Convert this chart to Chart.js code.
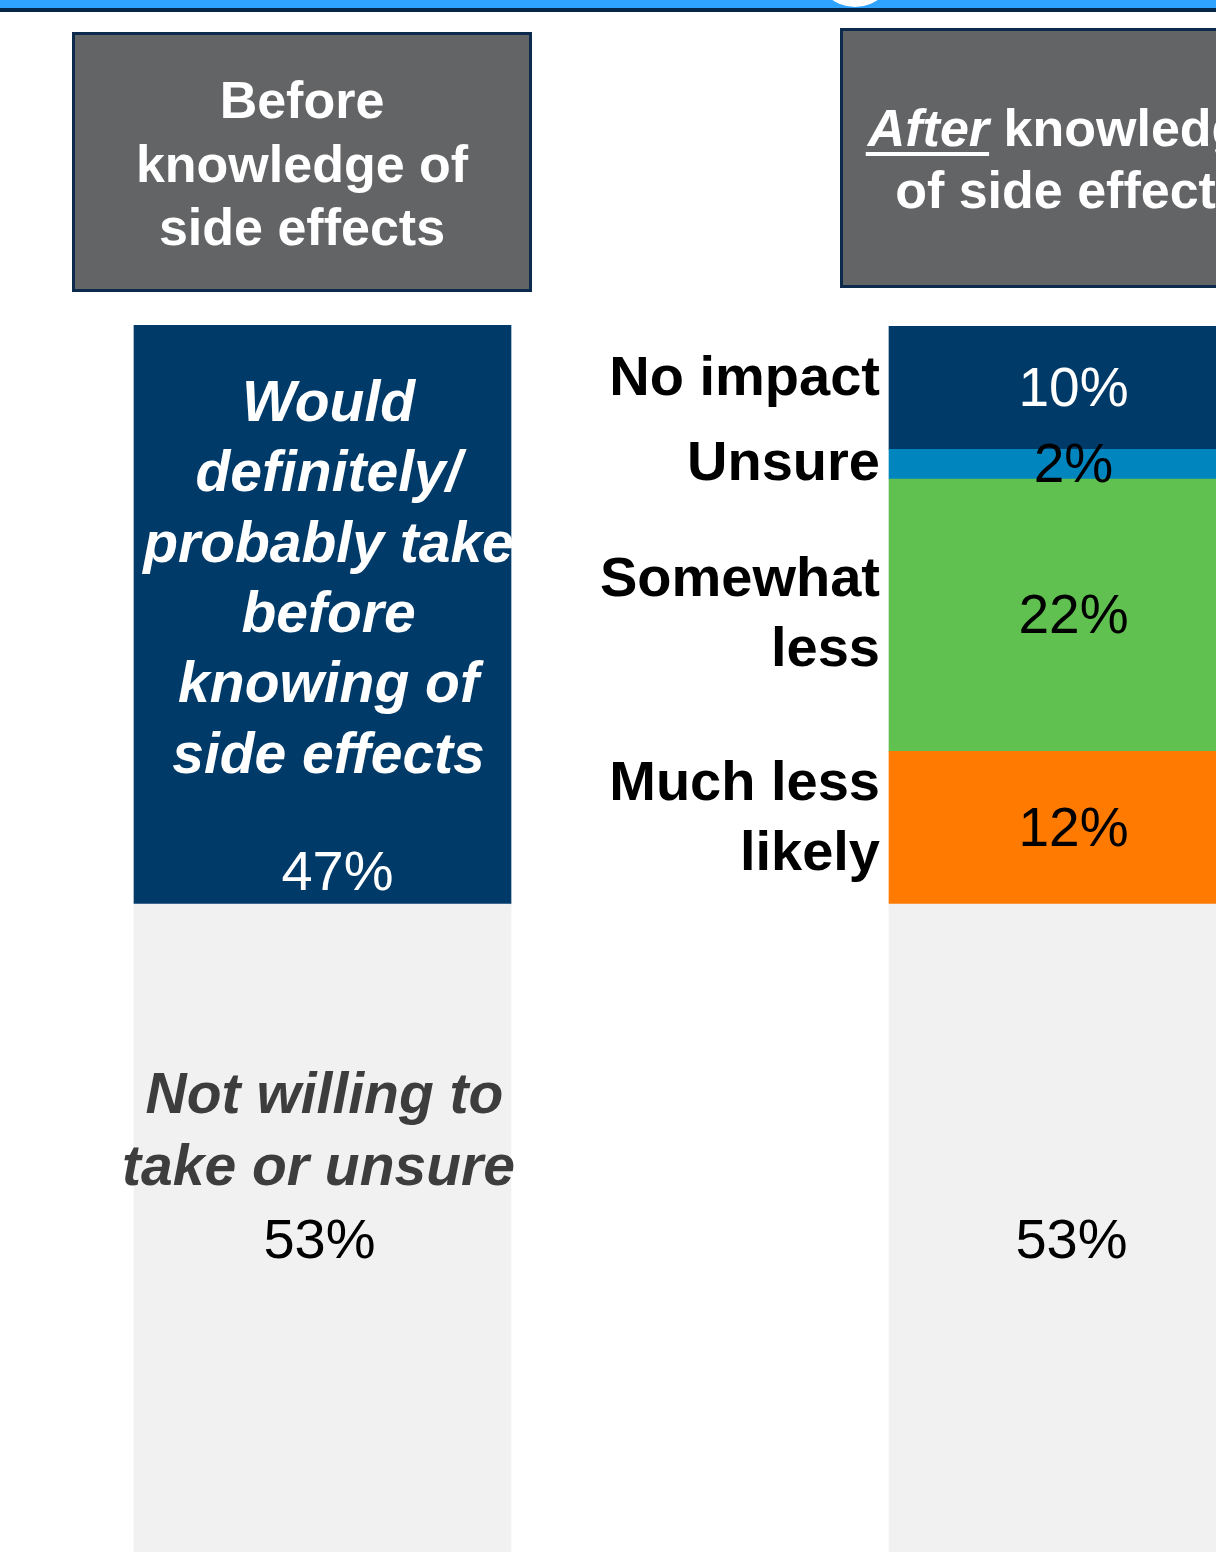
<!DOCTYPE html>
<html>
<head>
<meta charset="utf-8">
<script src="https://cdn.jsdelivr.net/npm/chart.js@4.4.1/dist/chart.umd.min.js"></script>
<style>
  html, body { margin: 0; padding: 0; background: #fff; overflow: hidden; }
  canvas { display: block; }
</style>
</head>
<body>
<canvas id="grafico" width="1216" height="1552"></canvas>
<script>
// categories (x position 0 = before, 1 = after)
const categories = ['Before knowledge of side effects', 'After knowledge of side effects']
const positions = [0, 1]

// series values, % of respondents
const notWilling   = [53, 53]
const wouldTake    = [47, null]
const muchLess     = [null, 12.4]
const somewhatLess = [null, 22.1]
const unsure       = [null, 2.4]
const noImpact     = [null, 10]

const seriesNames  = ['Not willing to take or unsure', 'Would definitely/ probably take before knowing of side effects',
                      'Much less likely', 'Somewhat less', 'Unsure', 'No impact']
const seriesValues = [notWilling, wouldTake, muchLess, somewhatLess, unsure, noImpact]
const seriesColors = ['#F1F1F1', '#003A69', '#FF7A00', '#60C151', '#0085BF', '#003A69']

const FONT = '"Liberation Sans", Arial, sans-serif'

const datasets = seriesValues.map((vals, i) => ({
    label: seriesNames[i],
    data: vals.map((v, j) => ({ x: positions[j], y: v })).filter(p => p.y !== null),
    backgroundColor: seriesColors[i],
    borderWidth: 0,
    barThickness: 377
}))

function headerBox(ctx, x, y, w, h) {
    ctx.fillStyle = '#636466'
    ctx.fillRect(x, y, w, h)
    ctx.strokeStyle = '#0B2A4C'
    ctx.lineWidth = 3
    ctx.strokeRect(x + 1.5, y + 1.5, w - 3, h - 3)
}

const overlay = {
    id: 'overlay',
    beforeDraw(chart) {
        const ctx = chart.ctx
        ctx.save()
        // band at the top
        ctx.fillStyle = '#2EA3FF'
        ctx.fillRect(0, 0, 1216, 8)
        ctx.fillStyle = '#05284A'
        ctx.fillRect(0, 8, 1216, 4)
        ctx.fillStyle = '#ffffff'
        ctx.beginPath()
        ctx.arc(855, -33, 40, 0, Math.PI * 2)
        ctx.fill()

        // header boxes
        headerBox(ctx, 72, 32, 460, 260)
        headerBox(ctx, 840, 28, 460, 260)
        ctx.fillStyle = '#ffffff'
        ctx.textAlign = 'center'
        ctx.textBaseline = 'alphabetic'
        ctx.font = 'bold 52px ' + FONT
        ctx.fillText('Before', 302, 118)
        ctx.fillText('knowledge of', 302, 182)
        ctx.fillText('side effects', 302, 245)

        // "After knowledge" with italic underlined first word
        ctx.textAlign = 'left'
        ctx.font = 'italic bold 52px ' + FONT
        const wAfter = ctx.measureText('After').width
        ctx.font = 'bold 52px ' + FONT
        const wRest = ctx.measureText(' knowledge').width
        const x0 = 1070 - (wAfter + wRest) / 2
        ctx.font = 'italic bold 52px ' + FONT
        ctx.fillText('After', x0, 146)
        ctx.fillRect(x0 - 2, 152, wAfter + 2, 4)
        ctx.font = 'bold 52px ' + FONT
        ctx.fillText(' knowledge', x0 + wAfter, 146)
        ctx.textAlign = 'center'
        ctx.fillText('of side effects', 1070, 208)
        ctx.restore()
    },
    afterDatasetsDraw(chart) {
        const ctx = chart.ctx
        const el = i => chart.getDatasetMeta(i).data
        ctx.save()
        ctx.textAlign = 'center'
        ctx.textBaseline = 'alphabetic'

        // left bar, top part
        const take = el(1)[0]
        const lines = ['Would', 'definitely/', 'probably take', 'before', 'knowing of', 'side effects']
        ctx.fillStyle = '#ffffff'
        ctx.font = 'italic bold 57px ' + FONT
        lines.forEach((t, k) => ctx.fillText(t, take.x + 6, take.y + 96 + k * 70.3))
        ctx.font = '56px ' + FONT
        ctx.fillText(Math.round(wouldTake[0]) + '%', take.x + 15, take.base - 14)

        // grey bottom parts
        const grey = el(0)
        ctx.fillStyle = '#3D3D3D'
        ctx.font = 'italic bold 57px ' + FONT
        ctx.fillText('Not willing to', grey[0].x + 2, grey[0].y + 209)
        ctx.fillText('take or unsure', grey[0].x - 4, grey[0].y + 281)
        ctx.fillStyle = '#000000'
        ctx.font = '56px ' + FONT
        grey.forEach((g, j) => ctx.fillText(Math.round(notWilling[j]) + '%', g.x - 3 - 3 * j, g.y + 354))

        // right bar segments: values inside, names to the left
        const segLines = { 2: ['Much less', 'likely'], 3: ['Somewhat', 'less'], 4: ['Unsure'], 5: ['No impact'] }
        for (let i = 2; i <= 5; i++) {
            const s = el(i)[0]
            const mid = (s.y + s.base) / 2
            ctx.textBaseline = 'middle'
            ctx.textAlign = 'center'
            ctx.font = '55px ' + FONT
            ctx.fillStyle = i === 5 ? '#ffffff' : '#000000'
            ctx.fillText(Math.round(seriesValues[i][1]) + '%', s.x - 4, mid + 3)

            ctx.textAlign = 'right'
            ctx.fillStyle = '#000000'
            ctx.font = 'bold 56px ' + FONT
            const ls = segLines[i]
            const shift = (i === 5 || i === 2) ? -8 : 0
            ls.forEach((t, k) => ctx.fillText(t, s.x - s.width / 2 - 9, mid + shift - (ls.length - 1) * 35 + k * 70))
        }
        ctx.restore()
    }
}

const config = {
    type: 'bar',
    data: { datasets },
    options: {
        responsive: false,
        animation: false,
        layout: { padding: { top: 325, left: 0, right: 0, bottom: 0 } },
        plugins: {
            legend: { display: false },
            tooltip: { enabled: false },
            title: { display: false }
        },
        scales: {
            x: {
                type: 'linear',
                stacked: true,
                display: false,
                offset: false,
                grid: { offset: false },
                min: -322.5 / 755,
                max: (1216 - 322.5) / 755
            },
            y: {
                stacked: true,
                display: false,
                min: 0.4,
                max: 100
            }
        }
    },
    plugins: [overlay]
}

const graph = new Chart(document.getElementById('grafico'), config)
</script>
</body>
</html>
